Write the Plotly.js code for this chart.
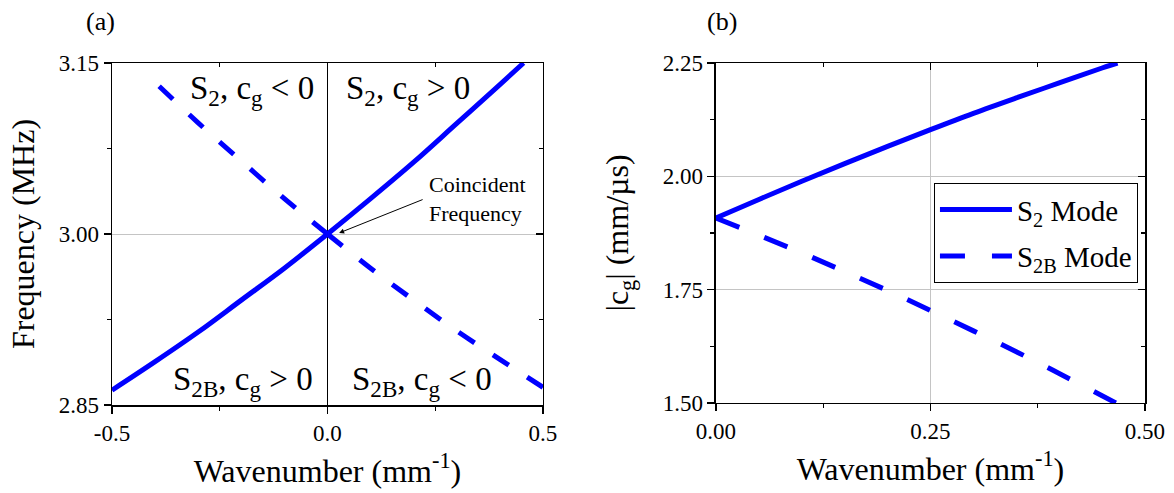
<!DOCTYPE html>
<html>
<head>
<meta charset="utf-8">
<script src="https://cdn.plot.ly/plotly-3.0.1.min.js"></script>
<style>html,body{margin:0;padding:0;background:#fff;}#chart{width:1174px;height:493px;}</style>
</head>
<body>
<div id="chart"></div>
<script>
// ---- Panel (a): dispersion near coincident frequency ----
var s2K  = [-0.5, -0.4, -0.3, -0.2, -0.1, 0.0, 0.1, 0.2, 0.3, 0.4, 0.455];
var s2F  = [2.863, 2.888, 2.914, 2.942, 2.970, 3.000, 3.031, 3.063, 3.097, 3.131, 3.150];
var s2bK = [-0.414, -0.4, -0.3, -0.2, -0.1, 0.0, 0.1, 0.2, 0.3, 0.4, 0.5];
var s2bF = [3.138, 3.133, 3.0975, 3.064, 3.031, 3.000, 2.970, 2.942, 2.915, 2.890, 2.8655];

// ---- Panel (b): group velocity magnitude ----
var cgK2  = [0.0, 0.05, 0.1, 0.15, 0.2, 0.25, 0.3, 0.35, 0.4, 0.45, 0.468];
var cgS2  = [1.908, 1.949, 1.989, 2.028, 2.066, 2.103, 2.139, 2.173, 2.206, 2.239, 2.250];
var cgK2B = [0.0, 0.05, 0.1, 0.15, 0.2, 0.25, 0.3, 0.35, 0.4, 0.45, 0.466];
var cgS2B = [1.908, 1.870, 1.831, 1.790, 1.748, 1.704, 1.659, 1.613, 1.565, 1.516, 1.500];

// ---- tick labels ----
var xTicksA = [-0.5, 0.0, 0.5];
var xLabelsA = ['-0.5', '0.0', '0.5'];
var yTicksA = [2.85, 3.00, 3.15];
var yLabelsA = ['2.85', '3.00', '3.15'];
var xTicksB = [0.0, 0.25, 0.5];
var xLabelsB = ['0.00', '0.25', '0.50'];
var yTicksB = [1.5, 1.75, 2.0, 2.25];
var yLabelsB = ['1.50', '1.75', '2.00', '2.25'];

var legendNames = ['S<sub>2</sub> Mode', 'S<sub>2B</sub> Mode'];
var quadLabels = ['S<sub>2</sub>, c<sub>g</sub> < 0', 'S<sub>2</sub>, c<sub>g</sub> > 0',
                  'S<sub>2B</sub>, c<sub>g</sub> > 0', 'S<sub>2B</sub>, c<sub>g</sub> < 0'];

var BLUE = '#0000ff';
var FONT = 'Liberation Serif, Times New Roman, serif';

// split the dashed S2B branch at k = 0 so both halves start their dash pattern at the crossing
var negK = [], negF = [], posK = [], posF = [];
for (var i = 0; i < s2bK.length; i++) {
  if (s2bK[i] <= 0) { negK.unshift(s2bK[i]); negF.unshift(s2bF[i]); }
  if (s2bK[i] >= 0) { posK.push(s2bK[i]); posF.push(s2bF[i]); }
}

var dashA = '19px,22px';
var dashB = '25px,27px';
function ln(d) { var o = {color: BLUE, width: 5, shape: 'spline', smoothing: 1}; if (d) o.dash = d; return o; }

var traces = [
  {x: s2K, y: s2F, xaxis: 'x', yaxis: 'y', mode: 'lines', line: ln(), showlegend: false, hoverinfo: 'skip'},
  {x: negK, y: negF, xaxis: 'x', yaxis: 'y', mode: 'lines', line: ln(dashA), showlegend: false, hoverinfo: 'skip'},
  {x: posK, y: posF, xaxis: 'x', yaxis: 'y', mode: 'lines', line: ln(dashA), showlegend: false, hoverinfo: 'skip'},
  {x: cgK2, y: cgS2, xaxis: 'x2', yaxis: 'y2', mode: 'lines', name: legendNames[0], legendgroup: 'a', line: ln()},
  {x: cgK2B, y: cgS2B, xaxis: 'x2', yaxis: 'y2', mode: 'lines', name: legendNames[1], legendgroup: 'b', line: ln(dashB)},
  // empty traces to realise the inward-tick mirror axes
  {x: [], y: [], xaxis: 'x3', yaxis: 'y3', mode: 'lines', showlegend: false, hoverinfo: 'skip'},
  {x: [], y: [], xaxis: 'x4', yaxis: 'y4', mode: 'lines', showlegend: false, hoverinfo: 'skip'}
];

var tickFont = {family: FONT, size: 23, color: '#000'};
var titleFont = {family: FONT, size: 32, color: '#000'};

function baseAxis(o) {
  var a = {
    showline: true, linecolor: '#000', linewidth: 1.5, mirror: true,
    ticks: 'outside', ticklen: 7, tickwidth: 1.2, tickcolor: '#000',
    tickfont: tickFont, zeroline: false, fixedrange: true,
    gridcolor: '#c4c4c4', gridwidth: 1, tickmode: 'array'
  };
  for (var k in o) a[k] = o[k];
  return a;
}
function mirrorAxis(o) {
  var a = {
    showline: false, showgrid: false, zeroline: false, showticklabels: false,
    ticks: 'inside', ticklen: 7, tickwidth: 1.2, tickcolor: '#000', fixedrange: true, tickmode: 'array'
  };
  for (var k in o) a[k] = o[k];
  return a;
}
function minorOf(step, dir) { return {dtick: step, ticks: dir, ticklen: 4, tickcolor: '#000', showgrid: false}; }

var layout = {
  width: 1174, height: 493,
  margin: {l: 112, r: 29, t: 63, b: 88},
  paper_bgcolor: '#fff', plot_bgcolor: '#fff',
  font: {family: FONT, color: '#000'},
  showlegend: true,
  legend: {
    x: 0.7957, y: 0.649, xanchor: 'left', yanchor: 'top',
    bgcolor: '#fff', bordercolor: '#000', borderwidth: 1,
    font: {family: FONT, size: 29, color: '#000'},
    tracegroupgap: 6, itemwidth: 72
  },
  xaxis: baseAxis({
    domain: [0, 0.4172], anchor: 'y', range: [-0.5, 0.5],
    tickvals: xTicksA, ticktext: xLabelsA, showgrid: false,
    zeroline: true, zerolinecolor: '#000', zerolinewidth: 1.5,
    minor: minorOf(0.25, 'outside'),
    title: {text: 'Wavenumber (mm<sup>-1</sup>)', font: titleFont, standoff: 14}
  }),
  yaxis: baseAxis({
    domain: [0, 1], anchor: 'x', range: [2.85, 3.15],
    tickvals: yTicksA, ticktext: yLabelsA, showgrid: true,
    minor: minorOf(0.075, 'outside'),
    title: {text: 'Frequency (MHz)', font: titleFont, standoff: 14}
  }),
  xaxis3: mirrorAxis({overlaying: 'x', side: 'top', anchor: 'y3', range: [-0.5, 0.5], tickvals: xTicksA,
    minor: minorOf(0.25, 'inside')}),
  yaxis3: mirrorAxis({overlaying: 'y', side: 'right', anchor: 'x3', range: [2.85, 3.15], tickvals: yTicksA,
    minor: minorOf(0.075, 'inside')}),
  xaxis2: baseAxis({
    domain: [0.5847, 1], anchor: 'y2', range: [0, 0.5],
    tickvals: xTicksB, ticktext: xLabelsB, showgrid: true,
    minor: minorOf(0.125, 'outside'),
    title: {text: 'Wavenumber (mm<sup>-1</sup>)', font: titleFont, standoff: 14}
  }),
  yaxis2: baseAxis({
    domain: [0.006, 1], anchor: 'x2', range: [1.5, 2.25],
    tickvals: yTicksB, ticktext: yLabelsB, showgrid: true,
    minor: minorOf(0.125, 'outside'),
    title: {text: '|c<sub>g</sub>| (mm/µs)', font: titleFont, standoff: 24}
  }),
  xaxis4: mirrorAxis({overlaying: 'x2', side: 'top', anchor: 'y4', range: [0, 0.5], tickvals: xTicksB,
    minor: minorOf(0.125, 'inside')}),
  yaxis4: mirrorAxis({overlaying: 'y2', side: 'right', anchor: 'x4', range: [1.5, 2.25], tickvals: yTicksB,
    minor: minorOf(0.125, 'inside')}),
  annotations: [
    {text: '(a)', xref: 'paper', yref: 'paper', x: -0.0116, y: 1.12, xanchor: 'center', yanchor: 'middle', showarrow: false, font: {family: FONT, size: 26, color: '#000'}},
    {text: '(b)', xref: 'paper', yref: 'paper', x: 0.5905, y: 1.12, xanchor: 'center', yanchor: 'middle', showarrow: false, font: {family: FONT, size: 26, color: '#000'}},
    {text: quadLabels[0], xref: 'x domain', yref: 'y domain', x: 0.325, y: 0.92, xanchor: 'center', yanchor: 'middle', showarrow: false, font: {family: FONT, size: 33, color: '#000'}},
    {text: quadLabels[1], xref: 'x domain', yref: 'y domain', x: 0.687, y: 0.92, xanchor: 'center', yanchor: 'middle', showarrow: false, font: {family: FONT, size: 33, color: '#000'}},
    {text: quadLabels[2], xref: 'x domain', yref: 'y domain', x: 0.304, y: 0.07, xanchor: 'center', yanchor: 'middle', showarrow: false, font: {family: FONT, size: 33, color: '#000'}},
    {text: quadLabels[3], xref: 'x domain', yref: 'y domain', x: 0.719, y: 0.07, xanchor: 'center', yanchor: 'middle', showarrow: false, font: {family: FONT, size: 33, color: '#000'}},
    {text: 'Coincident<br>Frequency', xref: 'x domain', yref: 'y domain', x: 0.731, y: 0.602, xanchor: 'left', yanchor: 'middle', align: 'left', showarrow: false, font: {family: FONT, size: 22, color: '#000'}},
    {text: '', xref: 'x domain', yref: 'y domain', x: 0.527, y: 0.503, showarrow: true, ax: 85, ay: -34, arrowhead: 2, arrowsize: 1, arrowwidth: 1, arrowcolor: '#000'}
  ]
};

Plotly.newPlot('chart', traces, layout, {displayModeBar: false, staticPlot: true});
</script>
</body>
</html>
